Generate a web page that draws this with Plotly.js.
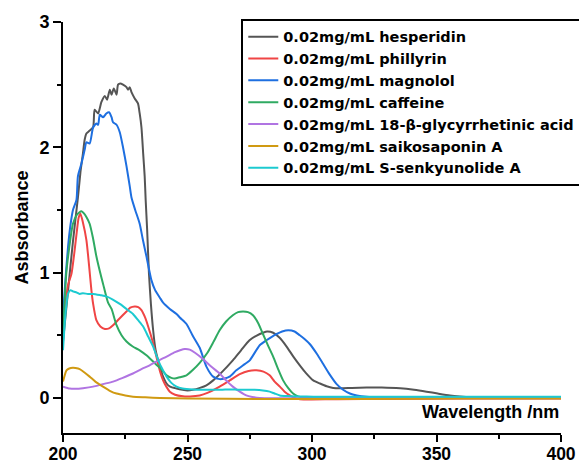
<!DOCTYPE html>
<html>
<head>
<meta charset="utf-8">
<script src="https://cdn.plot.ly/plotly-3.0.1.min.js"></script>
<style>html,body{margin:0;padding:0;background:#fff;overflow:hidden}</style>
</head>
<body>
<div id="chart" style="width:579px;height:465px"></div>
<script>
const names = [
  "0.02mg/mL hesperidin",
  "0.02mg/mL phillyrin",
  "0.02mg/mL magnolol",
  "0.02mg/mL caffeine",
  "0.02mg/mL 18-β-glycyrrhetinic acid",
  "0.02mg/mL saikosaponin A",
  "0.02mg/mL S-senkyunolide A"
];

const hesperidinWl = [200,202,204,206,207,208,208.7,209.4,210.5,212.1,212.7,214.1,215.4,216.8,217.7,218.8,219.5,220.4,221.5,222.1,223,224.1,225.5,226.1,226.8,227.5,228.8,230.1,230.8,231.5,232.2,232.8,233.2,233.8,234.5,235.3,236.2,237.2,238.9,240,241.6,243,245.6,248,250,252.2,255,257.6,260.3,264,268.2,271.5,274.9,278,280.3,282,284.4,287,289.8,292.5,295.1,297.5,300.5,303.2,305.9,308.5,311.2,316,321.9,328,335.4,341,346,350.5,355.4,359.4,364,370,380,390,400];
const hesperidinA = [0.45,0.85,1.25,1.6,1.8,1.95,2.06,2.11,2.13,2.16,2.30,2.27,2.36,2.41,2.38,2.46,2.42,2.47,2.42,2.50,2.51,2.50,2.48,2.46,2.48,2.44,2.39,2.35,2.27,2.16,1.95,1.77,1.58,1.34,1.0,0.75,0.54,0.38,0.25,0.18,0.115,0.09,0.075,0.065,0.06,0.065,0.08,0.10,0.14,0.21,0.30,0.38,0.46,0.50,0.52,0.53,0.52,0.48,0.41,0.33,0.26,0.20,0.14,0.115,0.093,0.08,0.077,0.08,0.083,0.083,0.077,0.065,0.05,0.035,0.02,0.012,0.006,0.003,0.002,0.002,0.002];

const phillyrinWl = [200,201,202,203.4,204.5,205.5,206.3,207,208,209.4,210.5,211.4,212.1,213.4,215,216.8,218.5,220.1,222.5,225.5,227,228.8,230.2,231.5,233,234.2,236,237.5,239,240.2,241.5,242.9,245,248.2,251,254.9,258,262.9,267,271,274.5,277.7,280.5,283,285,287.1,289,291.1,293,295.1,300,310,330,360,400];
const phillyrinA = [0.5,0.75,0.9,0.99,1.15,1.32,1.44,1.47,1.4,1.26,1.05,0.86,0.75,0.62,0.57,0.55,0.555,0.58,0.63,0.69,0.72,0.73,0.725,0.70,0.64,0.57,0.45,0.33,0.21,0.14,0.09,0.05,0.025,0.013,0.012,0.02,0.04,0.09,0.14,0.19,0.215,0.22,0.21,0.18,0.13,0.09,0.05,0.02,0.0,-0.01,-0.012,-0.01,-0.008,-0.005,-0.005];

const magnololWl = [200,201,202,203,204,205.4,206,207.4,208.7,209.4,210.7,212.1,213.4,214.1,214.8,216.1,217.4,218.5,219.5,220.1,221.5,222.8,224.1,225.5,226.8,227.5,229,230.8,232,233.5,235.5,237,238.9,240.2,242.9,245.6,247,249.6,252,254.9,257.6,260.3,262.9,264.9,266.9,269.6,273,275,279,281.7,284,285.8,288,290.5,293,295.1,297,299.1,302,304.5,307,309.9,312.5,315.2,318,321.9,330,340,360,400];
const magnololA = [0.65,0.95,1.2,1.38,1.5,1.58,1.77,1.87,1.98,2.04,2.03,2.16,2.19,2.18,2.26,2.24,2.27,2.28,2.24,2.20,2.18,2.12,2.00,1.85,1.69,1.6,1.5,1.39,1.27,1.13,0.94,0.86,0.80,0.76,0.71,0.67,0.64,0.59,0.50,0.40,0.25,0.17,0.15,0.155,0.17,0.22,0.27,0.30,0.42,0.46,0.49,0.51,0.53,0.54,0.53,0.50,0.47,0.43,0.35,0.27,0.19,0.11,0.065,0.035,0.02,0.01,0.005,0.003,0.003,0.003];

const caffeineWl = [200,201.3,202.5,204,205.5,206.5,207.4,208.5,209.5,210.7,212,213.4,214.8,216.1,218.1,219.5,221.5,223.5,225.5,228,230.8,233.5,236.2,238.9,241.6,243.5,244.9,246.9,249.6,252,254.9,258,260.5,262.9,265.5,268.2,270.3,272.3,274.3,276.3,278.3,280.3,282.3,284.4,286.4,288.4,290.4,292.4,294.4,296.4,300,310,330,360,400];
const caffeineA = [0.5,0.99,1.2,1.39,1.46,1.48,1.49,1.47,1.44,1.39,1.28,1.13,1.01,0.91,0.76,0.71,0.58,0.5,0.45,0.41,0.38,0.34,0.29,0.24,0.18,0.16,0.155,0.165,0.18,0.22,0.28,0.36,0.45,0.54,0.61,0.66,0.685,0.69,0.685,0.66,0.6,0.51,0.42,0.33,0.23,0.14,0.08,0.035,0.012,0.003,0.0,0.0,0.0,0.0,0.0];

const glycyrrhetinicWl = [200,202.7,205,208,212.1,216,220.1,224,228.1,231.5,234.8,238,241.6,245,247,248.9,250.9,253,256.2,259.5,262.9,265.5,268.2,271,273.6,276,279,285,300,340,400];
const glycyrrhetinicA = [0.09,0.075,0.073,0.078,0.09,0.11,0.13,0.16,0.195,0.23,0.26,0.295,0.33,0.365,0.38,0.39,0.385,0.36,0.31,0.25,0.195,0.14,0.09,0.05,0.02,0.008,0.0,-0.003,-0.003,-0.003,-0.003];

const saikosaponinWl = [200,201.4,202.5,204,205,206.7,208.5,210.7,213,216.1,219,221.5,225,228.1,233,238.9,250,280,320,360,400];
const saikosaponinA = [0.13,0.22,0.235,0.24,0.238,0.23,0.205,0.17,0.13,0.09,0.055,0.035,0.02,0.01,0.005,0.0,-0.005,-0.008,-0.008,-0.005,-0.005];

const senkyunolideWl = [200,201,202,203,204,205,206.7,208,210,212.1,215,217.4,220,222.8,225.5,228.1,230.2,232.2,234.2,236.2,237.5,238.9,240.2,241.6,243.5,245.6,248,252.2,256,260,264,267,270,273,277,280.3,283,285,287.1,290,295,300.5,310,330,360,400];
const senkyunolideA = [0.38,0.67,0.83,0.86,0.85,0.845,0.83,0.835,0.83,0.83,0.82,0.81,0.785,0.75,0.71,0.67,0.62,0.57,0.49,0.41,0.34,0.27,0.22,0.17,0.12,0.09,0.075,0.067,0.065,0.065,0.066,0.067,0.066,0.065,0.065,0.06,0.05,0.035,0.02,0.015,0.012,0.01,0.01,0.01,0.01,0.01];

const colors = ["#555555","#F04545","#1E6FE0","#2FAA62","#B074E2","#D09A12","#1CCAD0"];

const xs = [hesperidinWl, phillyrinWl, magnololWl, caffeineWl, glycyrrhetinicWl, saikosaponinWl, senkyunolideWl];
const ys = [hesperidinA, phillyrinA, magnololA, caffeineA, glycyrrhetinicA, saikosaponinA, senkyunolideA];

const FONT = "Arial, 'Liberation Sans', sans-serif";
const LFONT = "'DejaVu Sans', sans-serif";

const traces = names.map((n, i) => ({
  x: xs[i], y: ys[i], name: n, type: "scatter", mode: "lines",
  line: {color: colors[i], width: 2, shape: "spline", smoothing: 0.6},
  legendgroup: "g" + i
}));

const layout = {
  width: 579, height: 465,
  margin: {l: 63, r: 18, t: 22, b: 32, autoexpand: false},
  paper_bgcolor: "#fff", plot_bgcolor: "#fff",
  font: {family: FONT, color: "#000", weight: "bold"},
  showlegend: true,
  legend: {
    x: 0.358, y: 1.008, xanchor: "left", yanchor: "top",
    bordercolor: "#000", borderwidth: 2, bgcolor: "#fff",
    font: {family: LFONT, size: 14.5, color: "#000", weight: "bold"},
    tracegroupgap: 0, itemwidth: 30
  },
  xaxis: {
    range: [200, 400], tick0: 200, dtick: 50,
    showgrid: false, zeroline: false,
    showline: true, linecolor: "#000", linewidth: 2,
    ticks: "outside", ticklen: 7, tickwidth: 2, tickcolor: "#000",
    minor: {dtick: 25, ticks: "outside", ticklen: 4, tickwidth: 2, tickcolor: "#000"},
    tickfont: {family: FONT, size: 17.5, color: "#000", weight: "bold"},
    ticklabelstandoff: -3
  },
  yaxis: {
    range: [-0.28, 3.0], tick0: 0, dtick: 1,
    showgrid: false, zeroline: false,
    showline: true, linecolor: "#000", linewidth: 2,
    ticks: "outside", ticklen: 8, tickwidth: 2, tickcolor: "#000",
    minor: {dtick: 0.5, ticks: "outside", ticklen: 4, tickwidth: 2, tickcolor: "#000"},
    tickfont: {family: FONT, size: 18, color: "#000", weight: "bold"},
    title: {text: "Asbsorbance", font: {family: FONT, size: 18, color: "#000", weight: "bold"}, standoff: 6}
  },
  annotations: [{
    text: "Wavelength /nm", xref: "paper", yref: "paper", x: 1, y: 0.05,
    xanchor: "right", yanchor: "middle", showarrow: false,
    font: {family: FONT, size: 18, color: "#000", weight: "bold"}
  }]
};

Plotly.newPlot("chart", traces, layout, {displayModeBar: false, staticPlot: true});
</script>
</body>
</html>
